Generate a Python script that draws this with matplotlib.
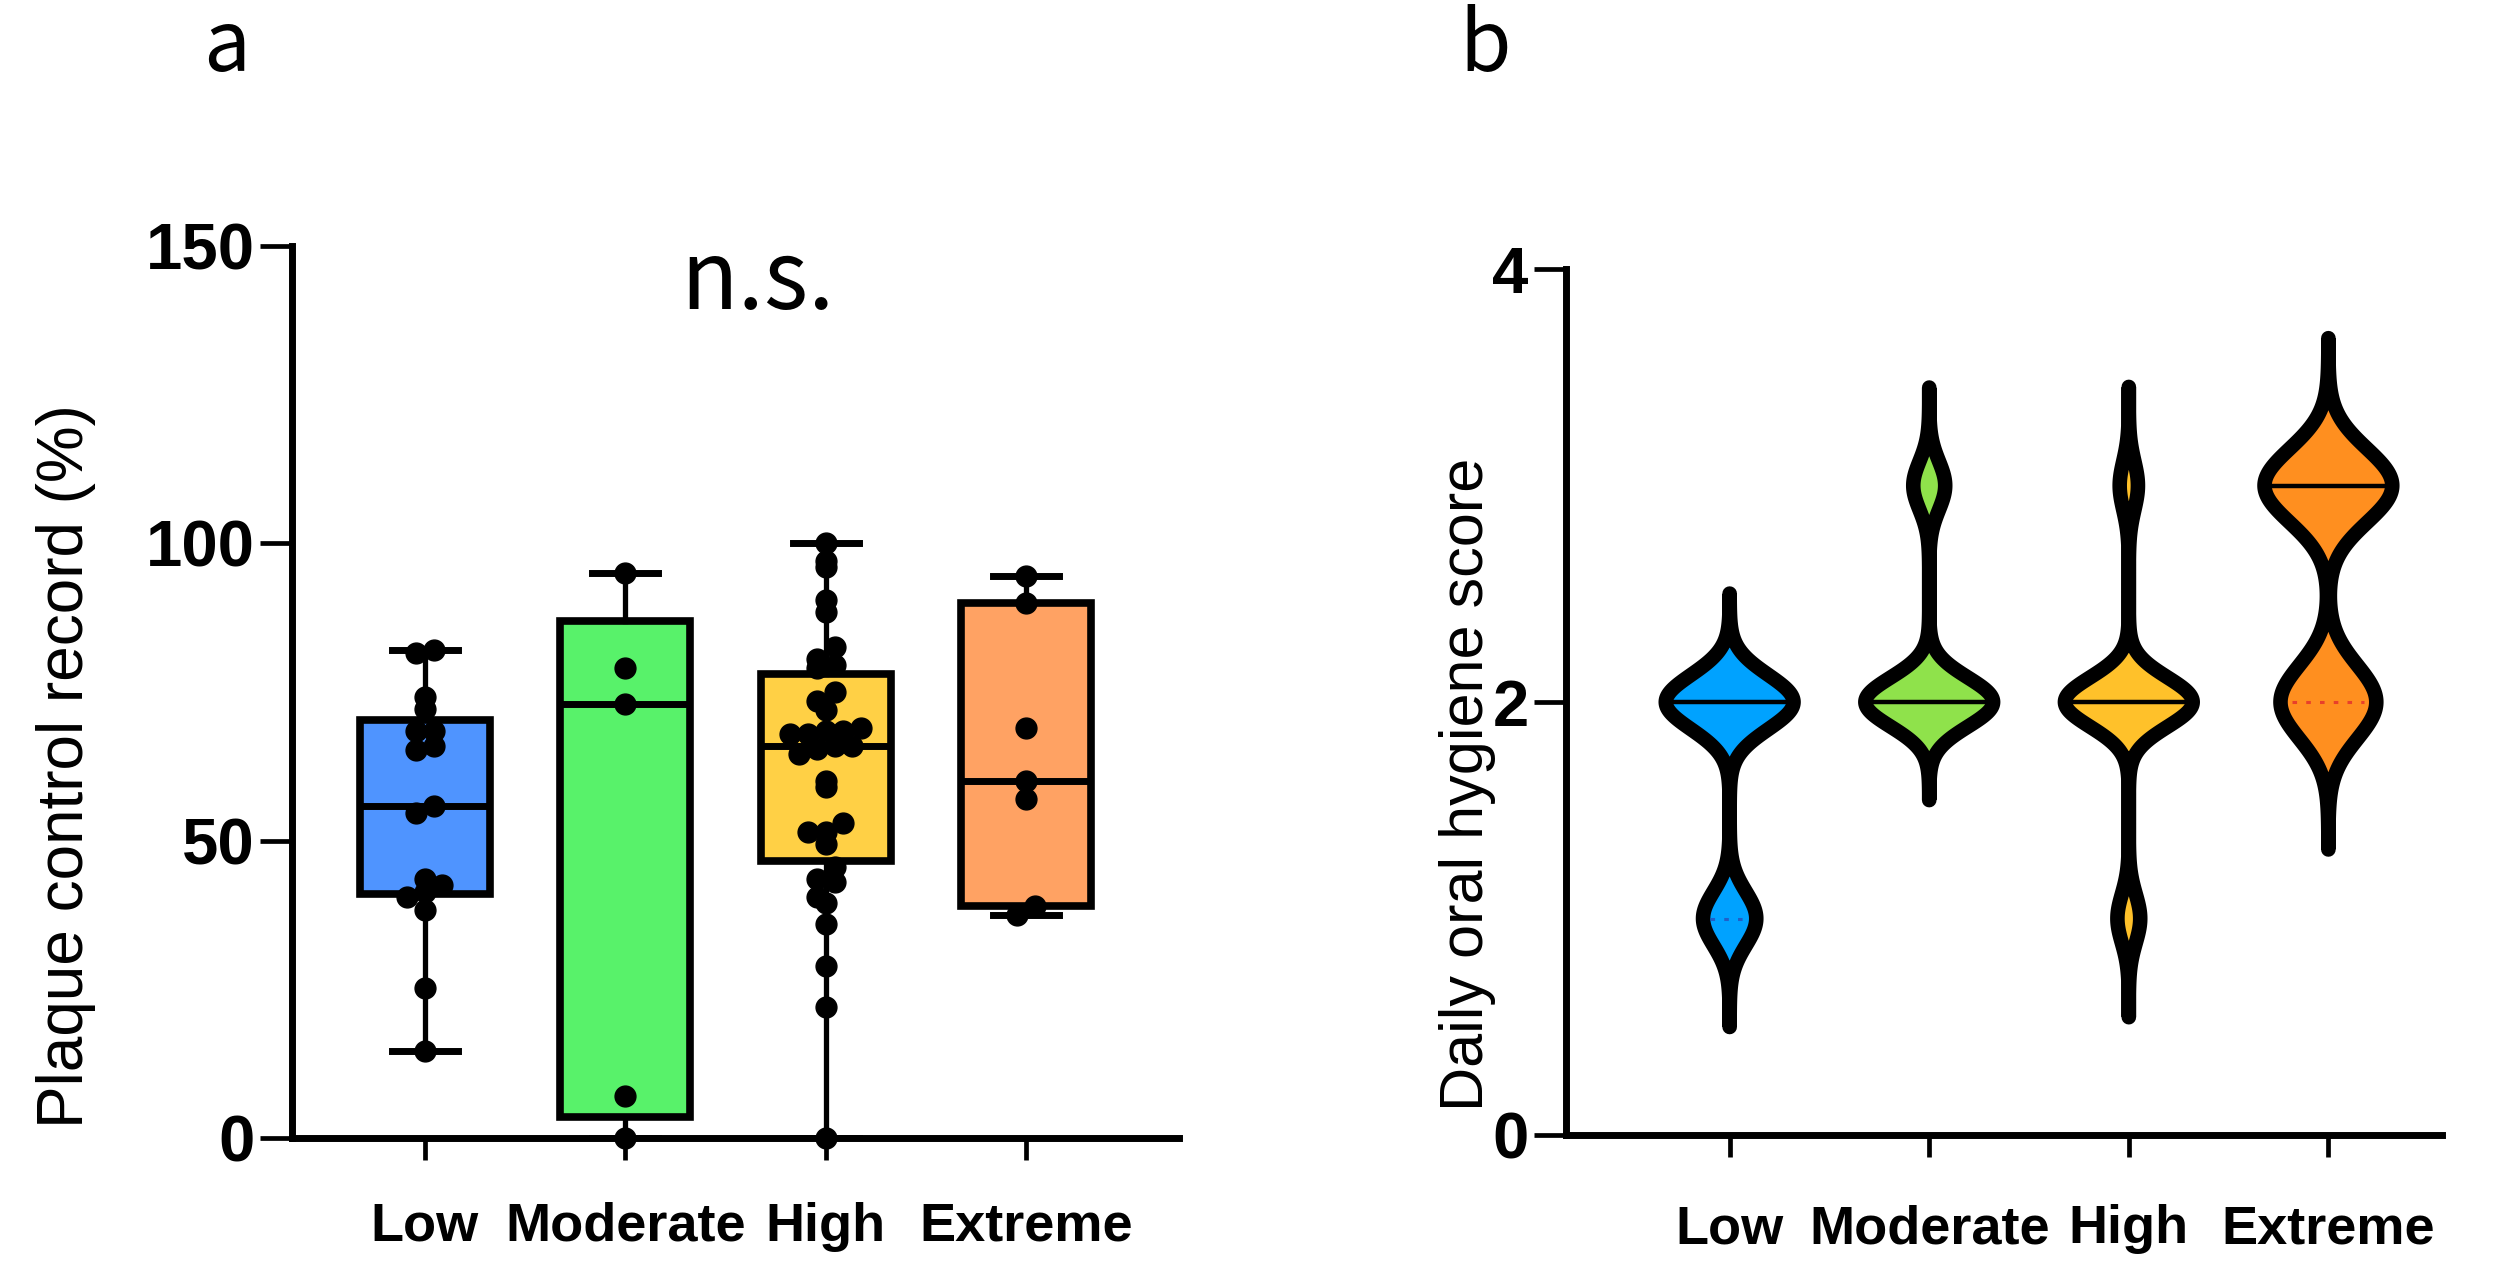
import numpy as np
import matplotlib
matplotlib.use("Agg")
import matplotlib.pyplot as plt
from matplotlib.patches import Polygon

groups = ["Low", "Moderate", "High", "Extreme"]

# panel a: plaque control record (%) per subject
pcr_low = [14.7, 25.2, 38.3, 40.5, 41.4, 42.6, 43.6, 54.6, 55.8, 65.2, 66.0,
           68.4, 68.4, 72.1, 74.2, 81.5, 82.0]
pcr_moderate = [0, 7, 73, 79, 95]
pcr_high = [0, 22, 29, 36, 39.5, 40.5, 43, 43.5, 45.5, 49.5, 51.5, 51.5, 53,
            59, 60, 64.5, 65.5, 66, 66, 68, 68, 68.5, 68.5, 69, 72, 73.5, 75,
            79, 79.5, 80.5, 82.5, 88.5, 90.5, 96, 97, 100]
pcr_extreme = [37.5, 39, 57, 60, 69, 90, 94.5]

# panel b: daily oral hygiene score, number of subjects per score level
score_levels = [1, 2, 3]
score_low = [5, 12, 0]
score_moderate = [0, 12, 3]
score_high = [5, 28, 4]
score_extreme = [0, 3, 4]

box_colors = ["#4f94ff", "#58f26a", "#ffd045", "#ffa263"]
violin_colors = ["#00a2ff", "#8fe24b", "#ffc12a", "#ff8f1f"]
quartile_colors = ["#1f5fc8", "#3c8a1c", "#c07a00", "#e8402a"]

W, H, DPI = 25.04, 12.73, 100
fig = plt.figure(figsize=(W, H), dpi=DPI)

axA_rect = [0.1168, 0.1061, 0.3539, 0.7005]
axB_rect = [0.6254, 0.1084, 0.3499, 0.6802]
axA = fig.add_axes(axA_rect)
axB = fig.add_axes(axB_rect)

xtick_font = dict(family="Liberation Sans", weight="bold", size=39)
ytick_font = dict(family="Liberation Sans", weight="bold", size=47)


def style_axis(ax, ylim, yticks, xpad):
    for side in ("top", "right"):
        ax.spines[side].set_visible(False)
    for side in ("left", "bottom"):
        ax.spines[side].set_linewidth(5.0)
        ax.spines[side].set_capstyle("projecting")
    ax.set_ylim(*ylim)
    ax.set_yticks(yticks)
    ax.set_yticklabels([str(t) for t in yticks], fontdict=ytick_font)
    ax.set_xticks(range(len(groups)))
    ax.set_xticklabels(groups, fontdict=xtick_font)
    ax.tick_params(axis="y", length=23, width=3.4, pad=4)
    ax.tick_params(axis="x", length=16, width=3.4, pad=xpad)


def swarm_offsets(values, px_per_y, px_per_x, diam):
    # rows of dots: values falling in the same band are spread sideways, centred on the group
    vals = np.asarray(values, dtype=float)
    rows = np.floor(vals * px_per_y / (0.95 * diam)).astype(int)
    offs = np.zeros(len(vals))
    for r in np.unique(rows):
        idx = np.where(rows == r)[0]
        idx = idx[np.argsort(vals[idx])]
        k = len(idx)
        for j, i in enumerate(idx):
            offs[i] = (j - (k - 1) / 2.0) * 0.85 * diam / px_per_x
    return offs


# ---------------- panel a: box + dots ----------------
pcr_data = [pcr_low, pcr_moderate, pcr_high, pcr_extreme]
xlimA = (-0.66, 3.76)
axA.set_xlim(*xlimA)
style_axis(axA, (0, 150), [0, 50, 100, 150], 30)

stats = []
for name, vals in zip(groups, pcr_data):
    v = np.asarray(vals, dtype=float)
    q1, med, q3 = np.percentile(v, [25, 50, 75], method="weibull")
    stats.append(dict(label=name, med=med, q1=q1, q3=q3, whislo=v.min(), whishi=v.max(), fliers=[]))

bp = axA.bxp(stats, positions=range(4), widths=0.65, patch_artist=True, showfliers=False,
             boxprops=dict(linewidth=5.5, edgecolor="black"),
             medianprops=dict(linewidth=5.0, color="black", solid_capstyle="butt"),
             whiskerprops=dict(linewidth=3.8, color="black"),
             capprops=dict(linewidth=5.0, color="black"), capwidths=0.33, zorder=2)
for patch, c in zip(bp["boxes"], box_colors):
    patch.set_facecolor(c)
axA.set_xticks(range(4))
axA.set_xticklabels(groups, fontdict=xtick_font)

axA_w_px = axA_rect[2] * W * DPI
axA_h_px = axA_rect[3] * H * DPI
px_y = axA_h_px / 150.0
px_x = axA_w_px / (xlimA[1] - xlimA[0])
dot_ms = 15.0
dot_px = dot_ms * DPI / 72.0
for i, vals in enumerate(pcr_data):
    offs = swarm_offsets(vals, px_y, px_x, dot_px)
    axA.plot(i + offs, vals, "o", ms=dot_ms, color="black", mec="black", zorder=4, clip_on=False)

axA.set_ylabel("Plaque control record (%)", family="Liberation Sans", size=46)
axA.yaxis.set_label_coords(-0.222, 0.4165)
axA.text(1.66, 144, "n.s.", ha="center", va="center", family="Noto Sans CJK JP", size=68)

# ---------------- panel b: violins ----------------
score_counts = [score_low, score_moderate, score_high, score_extreme]
xlimB = (-0.82, 3.57)
axB.set_xlim(*xlimB)
style_axis(axB, (0, 4), [0, 2, 4], 34)

half_w = 0.32
for i, counts in enumerate(score_counts):
    lv = np.array(score_levels, dtype=float)
    c = np.array(counts, dtype=int)
    values = np.repeat(lv, c)
    # narrow gaussian kernel scaled like a rule-of-thumb bandwidth
    bw = 0.47 * values.std(ddof=1) * len(values) ** -0.2
    grid = np.linspace(values.min() - 4 * bw, values.max() + 4 * bw, 800)
    dens = np.zeros_like(grid)
    for v in values:
        dens += np.exp(-0.5 * ((grid - v) / bw) ** 2)
    dens = dens / dens.max() * half_w
    xs = np.concatenate([i - dens, (i + dens)[::-1]])
    ys = np.concatenate([grid, grid[::-1]])
    axB.add_patch(Polygon(np.column_stack([xs, ys]), closed=True, facecolor=violin_colors[i],
                          edgecolor="none", zorder=2))
    axB.add_patch(Polygon(np.column_stack([xs, ys]), closed=True, facecolor="none",
                          edgecolor="black", linewidth=10.5, joinstyle="round", capstyle="round", zorder=3))
    q1, med, q3 = np.percentile(values, [25, 50, 75], method="weibull")
    w_med = np.interp(med, grid, dens)
    axB.plot([i - w_med, i + w_med], [med, med], color="black", lw=3.2, zorder=4)
    for q in (q1, q3):
        if q != med:
            wq = np.interp(q, grid, dens)
            axB.plot([i - wq * 0.75, i + wq * 0.75], [q, q], color=quartile_colors[i], lw=2.2,
                     ls=(0, (1.5, 3)), zorder=4)

axB.set_ylabel("Daily oral hygiene score", family="Liberation Sans", size=44)
axB.yaxis.set_label_coords(-0.08, 0.405)

fig.text(0.081, 0.963, "a", family="Noto Sans CJK JP", size=60, va="center", ha="left")
fig.text(0.583, 0.963, "b", family="Noto Sans CJK JP", size=60, va="center", ha="left")

fig.savefig("out.png", dpi=DPI)
